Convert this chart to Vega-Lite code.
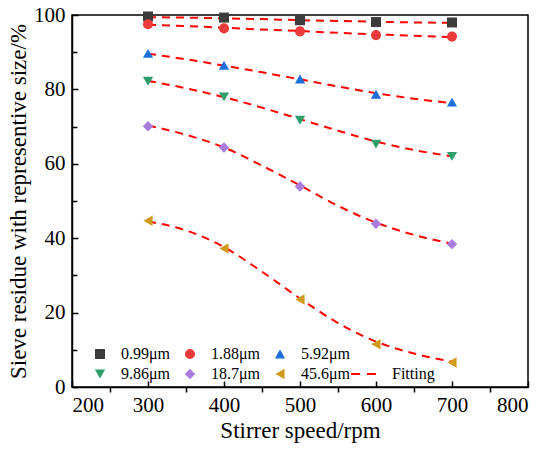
{
  "$schema": "https://vega.github.io/schema/vega-lite/v6.json",
  "width": 456,
  "height": 372,
  "autosize": {"type": "none"},
  "padding": {"left": 72, "top": 15, "right": 22, "bottom": 66},
  "background": "white",
  "config": {
    "font": "Liberation Serif",
    "view": {"stroke": "#000000", "strokeWidth": 1.5},
    "axis": {
      "grid": false,
      "domainColor": "#000000",
      "domainWidth": 1.5,
      "tickColor": "#000000",
      "tickWidth": 1.5,
      "labelColor": "#000000",
      "titleColor": "#000000",
      "labelFont": "Liberation Serif",
      "titleFont": "Liberation Serif",
      "labelFontSize": 21,
      "titleFontSize": 23,
      "titleFontWeight": "normal"
    },
    "legend": {
      "labelFont": "Liberation Serif",
      "labelFontSize": 16,
      "labelColor": "#000000"
    }
  },
  "datasets": {
    "pts": [
      {"speed": 300, "size": "0.99μm", "value": 99.6},
      {"speed": 400, "size": "0.99μm", "value": 99.3},
      {"speed": 500, "size": "0.99μm", "value": 98.6},
      {"speed": 600, "size": "0.99μm", "value": 98.1},
      {"speed": 700, "size": "0.99μm", "value": 98.0},
      {"speed": 300, "size": "1.88μm", "value": 97.5},
      {"speed": 400, "size": "1.88μm", "value": 96.4},
      {"speed": 500, "size": "1.88μm", "value": 95.6},
      {"speed": 600, "size": "1.88μm", "value": 94.6},
      {"speed": 700, "size": "1.88μm", "value": 94.2},
      {"speed": 300, "size": "5.92μm", "value": 89.7},
      {"speed": 400, "size": "5.92μm", "value": 86.5},
      {"speed": 500, "size": "5.92μm", "value": 82.8},
      {"speed": 600, "size": "5.92μm", "value": 78.7},
      {"speed": 700, "size": "5.92μm", "value": 76.6},
      {"speed": 300, "size": "9.86μm", "value": 82.2},
      {"speed": 400, "size": "9.86μm", "value": 78.0},
      {"speed": 500, "size": "9.86μm", "value": 71.7},
      {"speed": 600, "size": "9.86μm", "value": 65.3},
      {"speed": 700, "size": "9.86μm", "value": 62.0},
      {"speed": 300, "size": "18.7μm", "value": 70.1},
      {"speed": 400, "size": "18.7μm", "value": 64.4},
      {"speed": 500, "size": "18.7μm", "value": 53.9},
      {"speed": 600, "size": "18.7μm", "value": 43.9},
      {"speed": 700, "size": "18.7μm", "value": 38.4},
      {"speed": 300, "size": "45.6μm", "value": 44.7},
      {"speed": 400, "size": "45.6μm", "value": 37.2},
      {"speed": 500, "size": "45.6μm", "value": 23.5},
      {"speed": 600, "size": "45.6μm", "value": 11.5},
      {"speed": 700, "size": "45.6μm", "value": 6.6}
    ],
    "fits": [
      {"speed": 300, "size": "0.99μm", "fit": 99.4},
      {"speed": 350, "size": "0.99μm", "fit": 99.3},
      {"speed": 400, "size": "0.99μm", "fit": 99.1},
      {"speed": 450, "size": "0.99μm", "fit": 98.9},
      {"speed": 500, "size": "0.99μm", "fit": 98.6},
      {"speed": 550, "size": "0.99μm", "fit": 98.4},
      {"speed": 600, "size": "0.99μm", "fit": 98.2},
      {"speed": 650, "size": "0.99μm", "fit": 98.0},
      {"speed": 700, "size": "0.99μm", "fit": 97.9},
      {"speed": 300, "size": "1.88μm", "fit": 97.4},
      {"speed": 350, "size": "1.88μm", "fit": 97.0},
      {"speed": 400, "size": "1.88μm", "fit": 96.6},
      {"speed": 450, "size": "1.88μm", "fit": 96.1},
      {"speed": 500, "size": "1.88μm", "fit": 95.7},
      {"speed": 550, "size": "1.88μm", "fit": 95.2},
      {"speed": 600, "size": "1.88μm", "fit": 94.8},
      {"speed": 650, "size": "1.88μm", "fit": 94.4},
      {"speed": 700, "size": "1.88μm", "fit": 94.1},
      {"speed": 300, "size": "5.92μm", "fit": 89.6},
      {"speed": 350, "size": "5.92μm", "fit": 88.1},
      {"speed": 400, "size": "5.92μm", "fit": 86.4},
      {"speed": 450, "size": "5.92μm", "fit": 84.6},
      {"speed": 500, "size": "5.92μm", "fit": 82.7},
      {"speed": 550, "size": "5.92μm", "fit": 80.8},
      {"speed": 600, "size": "5.92μm", "fit": 79.0},
      {"speed": 650, "size": "5.92μm", "fit": 77.5},
      {"speed": 700, "size": "5.92μm", "fit": 76.3},
      {"speed": 300, "size": "9.86μm", "fit": 82.3},
      {"speed": 350, "size": "9.86μm", "fit": 80.3},
      {"speed": 400, "size": "9.86μm", "fit": 77.9},
      {"speed": 450, "size": "9.86μm", "fit": 75.1},
      {"speed": 500, "size": "9.86μm", "fit": 72.0},
      {"speed": 550, "size": "9.86μm", "fit": 68.9},
      {"speed": 600, "size": "9.86μm", "fit": 66.0},
      {"speed": 650, "size": "9.86μm", "fit": 63.7},
      {"speed": 700, "size": "9.86μm", "fit": 62.0},
      {"speed": 300, "size": "18.7μm", "fit": 70.3},
      {"speed": 350, "size": "18.7μm", "fit": 67.8},
      {"speed": 400, "size": "18.7μm", "fit": 64.4},
      {"speed": 450, "size": "18.7μm", "fit": 59.5},
      {"speed": 500, "size": "18.7μm", "fit": 54.2},
      {"speed": 550, "size": "18.7μm", "fit": 48.7},
      {"speed": 600, "size": "18.7μm", "fit": 44.2},
      {"speed": 650, "size": "18.7μm", "fit": 40.9},
      {"speed": 700, "size": "18.7μm", "fit": 38.5},
      {"speed": 300, "size": "45.6μm", "fit": 44.5},
      {"speed": 350, "size": "45.6μm", "fit": 42.1},
      {"speed": 400, "size": "45.6μm", "fit": 37.6},
      {"speed": 450, "size": "45.6μm", "fit": 31.0},
      {"speed": 500, "size": "45.6μm", "fit": 23.8},
      {"speed": 550, "size": "45.6μm", "fit": 17.2},
      {"speed": 600, "size": "45.6μm", "fit": 12.2},
      {"speed": 650, "size": "45.6μm", "fit": 9.0},
      {"speed": 700, "size": "45.6μm", "fit": 6.8}
    ]
  },
  "layer": [
    {
      "data": {"name": "fits"},
      "mark": {"type": "line", "strokeDash": [8, 6], "strokeWidth": 2, "interpolate": "monotone"},
      "encoding": {
        "x": {
          "field": "speed", "type": "quantitative",
          "scale": {"domain": [200, 800], "nice": false, "zero": false},
          "axis": {"orient": "bottom", "values": [250, 350, 450, 550, 650, 750], "labels": false, "domain": false, "tickSize": 5, "title": null}
        },
        "y": {
          "field": "fit", "type": "quantitative",
          "scale": {"domain": [0, 100], "nice": false},
          "axis": {"orient": "left", "values": [10, 30, 50, 70, 90], "labels": false, "domain": false, "tickSize": -5, "title": null}
        },
        "detail": {"field": "size"},
        "stroke": {
          "datum": "Fitting",
          "scale": {"range": ["#ff0000"]},
          "legend": {
            "title": null,
            "orient": "none",
            "legendX": 278,
            "legendY": 344,
            "symbolType": "stroke",
            "symbolSize": 784,
            "symbolStrokeWidth": 2,
            "symbolDash": [9, 7],
            "labelOffset": 12,
            "padding": 0
          }
        }
      }
    },
    {
      "data": {"name": "pts"},
      "mark": {"type": "point", "filled": true, "opacity": 1},
      "encoding": {
        "x": {
          "field": "speed", "type": "quantitative",
          "axis": {"orient": "bottom", "values": [200, 300, 400, 500, 600, 700, 800], "tickSize": -6, "labelPadding": 13, "title": "Stirrer speed/rpm", "titlePadding": 4}
        },
        "y": {
          "field": "value", "type": "quantitative",
          "axis": {"orient": "left", "values": [0, 20, 40, 60, 80, 100], "tickSize": -6, "labelPadding": 13, "title": "Sieve residue with representive size/%", "titlePadding": 3}
        },
        "color": {
          "field": "size", "type": "nominal",
          "scale": {
            "domain": ["0.99μm", "1.88μm", "5.92μm", "9.86μm", "18.7μm", "45.6μm"],
            "range": ["#3c3c3c", "#ee3a3a", "#1c6ed8", "#2e9e6a", "#a87bdd", "#d09a1a"]
          },
          "legend": {
            "title": null,
            "orient": "none",
            "direction": "horizontal",
            "legendX": 20,
            "legendY": 331,
            "columns": 3,
            "columnPadding": 11,
            "rowPadding": 4,
            "symbolSize": 95,
            "labelOffset": 13,
            "padding": 0
          }
        },
        "shape": {
          "field": "size", "type": "nominal",
          "scale": {
            "domain": ["0.99μm", "1.88μm", "5.92μm", "9.86μm", "18.7μm", "45.6μm"],
            "range": ["square", "circle", "triangle-up", "triangle-down", "diamond", "triangle-left"]
          }
        },
        "size": {
          "field": "size", "type": "nominal",
          "scale": {
            "domain": ["0.99μm", "1.88μm", "5.92μm", "9.86μm", "18.7μm", "45.6μm"],
            "range": [100, 110, 170, 170, 130, 170]
          },
          "legend": null
        }
      }
    }
  ],
  "resolve": {"axis": {"x": "independent", "y": "independent"}, "legend": {"stroke": "independent"}}
}
